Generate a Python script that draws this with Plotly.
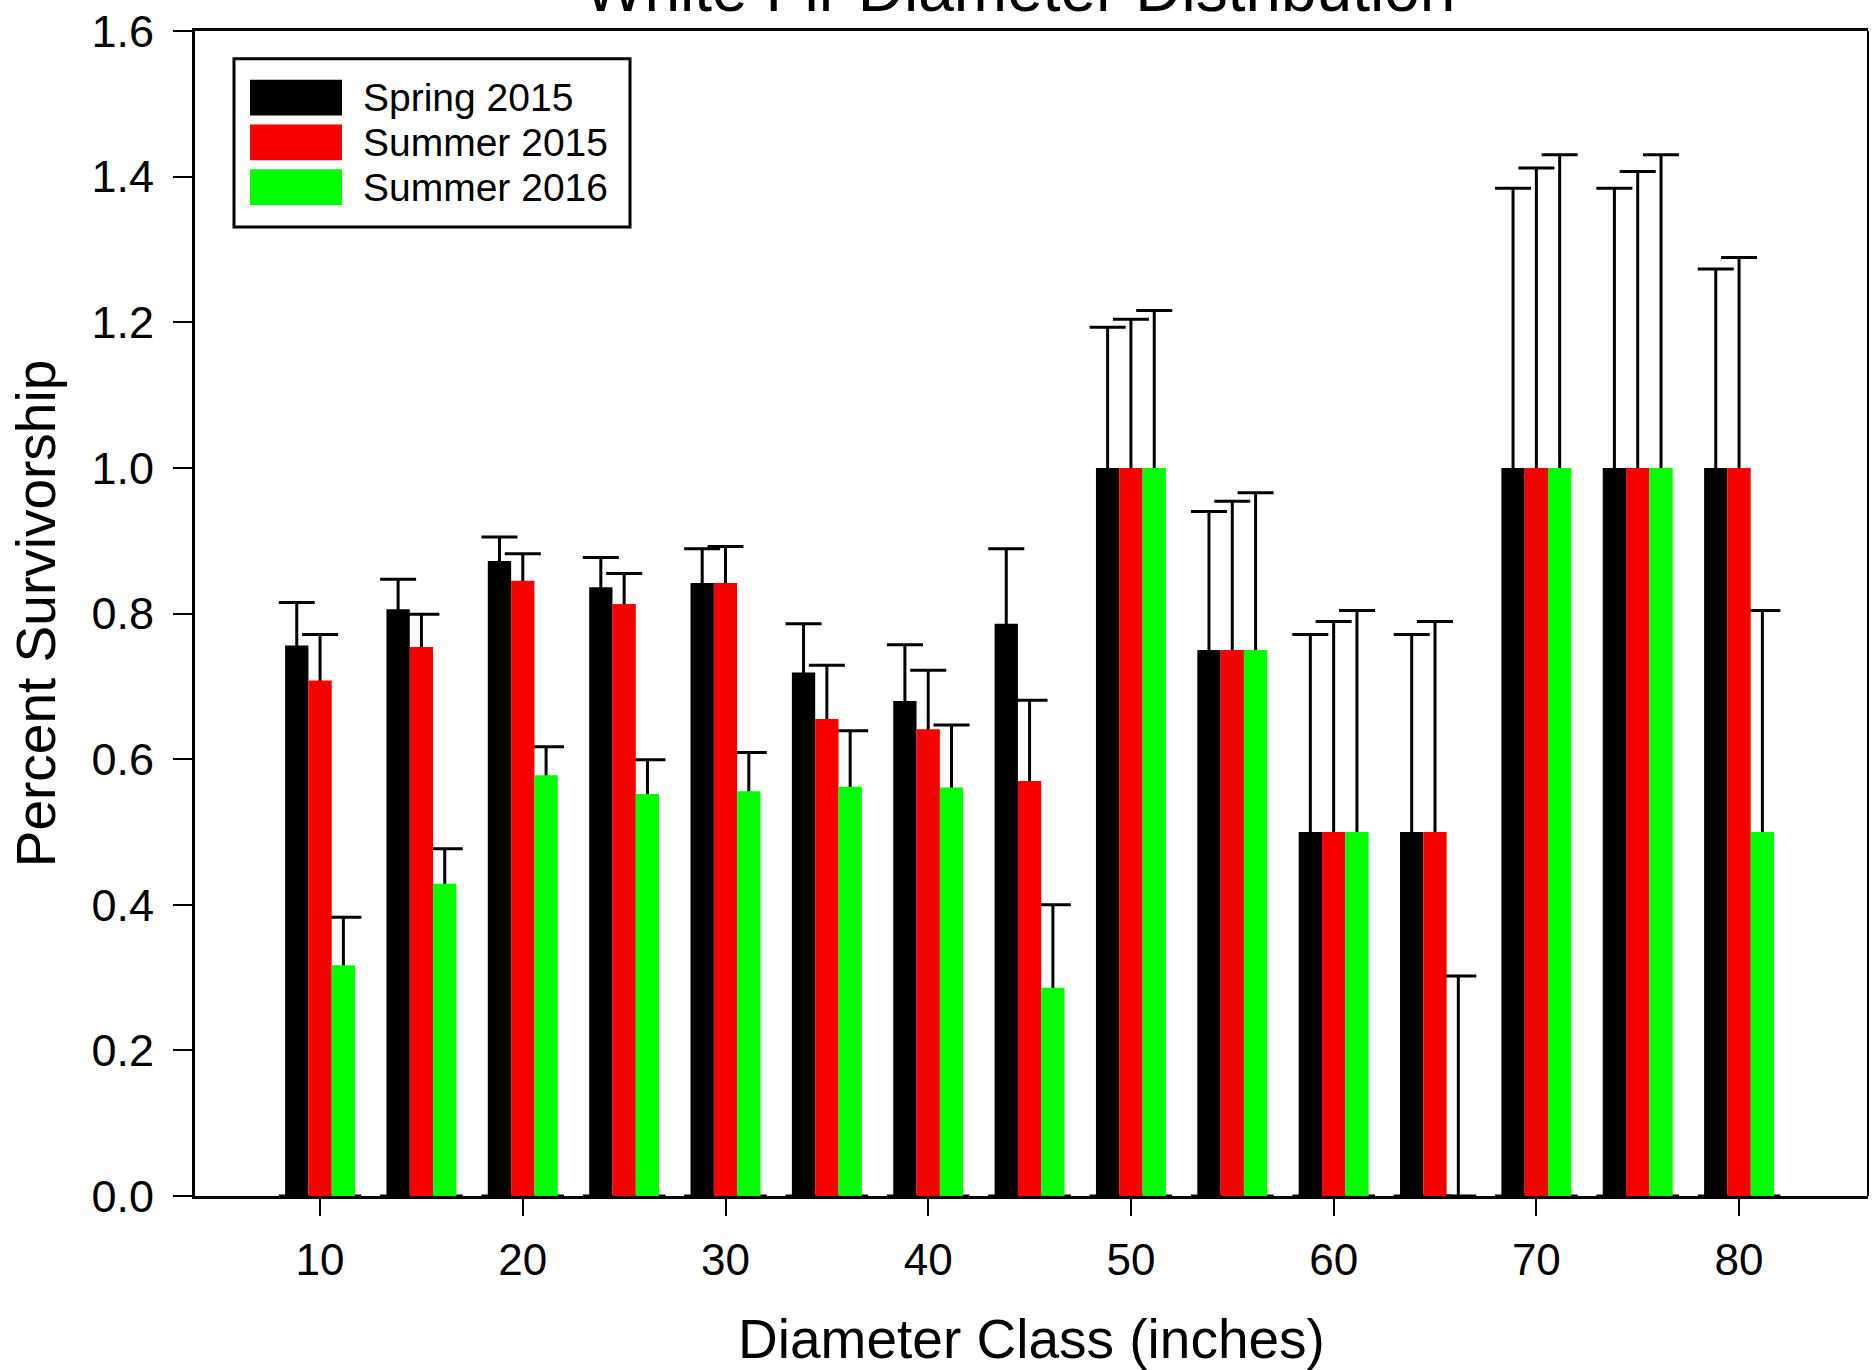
import plotly.graph_objects as go

# ---------------- data ----------------
diameter_class = [10, 15, 20, 25, 30, 35, 40, 45, 50, 55, 60, 65, 70, 75, 80]
series_names = ["Spring 2015", "Summer 2015", "Summer 2016"]
series_colors = ["#000000", "#F70000", "#00FF00"]

spring_2015 = [0.756, 0.806, 0.872, 0.836, 0.842, 0.719, 0.680, 0.786, 1.0, 0.75, 0.5, 0.5, 1.0, 1.0, 1.0]
spring_2015_err = [0.059, 0.041, 0.033, 0.041, 0.047, 0.067, 0.077, 0.103, 0.193, 0.190, 0.271, 0.271, 0.384, 0.384, 0.273]

summer_2015 = [0.708, 0.754, 0.845, 0.813, 0.842, 0.655, 0.641, 0.570, 1.0, 0.75, 0.5, 0.5, 1.0, 1.0, 1.0]
summer_2015_err = [0.063, 0.045, 0.037, 0.042, 0.050, 0.074, 0.081, 0.111, 0.204, 0.204, 0.289, 0.289, 0.412, 0.407, 0.289]

summer_2016 = [0.317, 0.429, 0.578, 0.552, 0.556, 0.562, 0.561, 0.286, 1.0, 0.75, 0.5, 0.0, 1.0, 1.0, 0.5]
summer_2016_err = [0.066, 0.048, 0.039, 0.047, 0.053, 0.077, 0.086, 0.114, 0.216, 0.216, 0.304, 0.302, 0.430, 0.430, 0.304]

x_ticks = [10, 20, 30, 40, 50, 60, 70, 80]
y_ticks = [0.0, 0.2, 0.4, 0.6, 0.8, 1.0, 1.2, 1.4, 1.6]

title_text = "White Fir Diameter Distribution"
x_title = "Diameter Class (inches)"
y_title = "Percent Survivorship"

# ---------------- figure ----------------
FONT = "Liberation Sans, Arial, Helvetica, sans-serif"
W, H = 1874, 1370
ML, MR, MT, MB = 195, 6, 25, 174
PW = W - ML - MR
PH = H - MT - MB

values = [spring_2015, summer_2015, summer_2016]
errors = [spring_2015_err, summer_2015_err, summer_2016_err]

fig = go.Figure()
# error bars carried by transparent bars (drawn first, so the real bars hide
# the lower part of the whiskers; only the upward part stays visible)
for i, (name, vals, errs) in enumerate(zip(series_names, values, errors)):
    fig.add_trace(go.Bar(
        x=diameter_class, y=vals, name=name + " error",
        offsetgroup=str(i),
        marker=dict(color="rgba(0,0,0,0)", line=dict(width=0)),
        error_y=dict(type="data", symmetric=False, array=errs,
                     arrayminus=vals, color="black",
                     thickness=3, width=18),
        showlegend=False, hoverinfo="skip",
    ))
for i, (name, color, vals) in enumerate(zip(series_names, series_colors, values)):
    fig.add_trace(go.Bar(
        x=diameter_class, y=vals, name=name,
        offsetgroup=str(i),
        marker=dict(color=color, line=dict(width=0)),
        showlegend=False,
    ))

def px_x(px):
    return (px - ML) / PW

def px_y(py):
    return 1 - (py - MT) / PH

shapes = []
annotations = []

# legend box
shapes.append(dict(type="rect", xref="paper", yref="paper",
                   x0=px_x(234), x1=px_x(630), y0=px_y(222), y1=px_y(53),
                   line=dict(color="black", width=3), fillcolor="white", layer="above"))
sw_top = [74, 119, 164]
for i, (name, color) in enumerate(zip(series_names, series_colors)):
    t = sw_top[i]
    shapes.append(dict(type="rect", xref="paper", yref="paper",
                       x0=px_x(250), x1=px_x(342), y0=px_y(t + 36), y1=px_y(t),
                       line=dict(width=0), fillcolor=color, layer="above"))
    annotations.append(dict(xref="paper", yref="paper", x=px_x(361), y=px_y(t + 18),
                            xanchor="left", yanchor="middle", showarrow=False,
                            text=name, font=dict(family=FONT, size=39, color="black")))

# right border
shapes.append(dict(type="line", xref="paper", yref="paper", x0=1, x1=1, y0=0, y1=1,
                   line=dict(color="black", width=2)))

# title (mostly cut off at top, as in the reference)
annotations.append(dict(xref="paper", yref="paper", x=0.493, y=1, xanchor="center",
                        yanchor="bottom", yshift=4, showarrow=False, text=title_text,
                        font=dict(family=FONT, size=64, color="black")))

fig.update_layout(
    width=W, height=H,
    margin=dict(l=ML, r=MR, t=MT, b=MB, pad=0),
    paper_bgcolor="white", plot_bgcolor="white",
    barmode="group", bargap=0.31, bargroupgap=0.0,
    font=dict(family=FONT, color="black"),
    shapes=shapes, annotations=annotations,
    showlegend=False,
)
fig.update_xaxes(
    range=[3.83, 86.36], tickvals=x_ticks, ticktext=[str(v) for v in x_ticks],
    ticks="outside", ticklen=17, tickwidth=2, tickcolor="black",
    showline=True, linewidth=3, linecolor="black", mirror=True,
    showgrid=False, zeroline=False,
    tickfont=dict(family=FONT, size=44, color="black"), ticklabelstandoff=6,
    title=dict(text=x_title, font=dict(family=FONT, size=55, color="black"), standoff=40),
)
fig.update_yaxes(
    range=[0, 1.6], tickvals=y_ticks, ticktext=[f"{v:.1f}" for v in y_ticks],
    ticks="outside", ticklen=19, tickwidth=2, tickcolor="black",
    showline=True, linewidth=3, linecolor="black", mirror=False,
    showgrid=False, zeroline=False, ticklabeloverflow="allow",
    tickfont=dict(family=FONT, size=45, color="black"), ticklabelstandoff=10,
    title=dict(text=y_title, font=dict(family=FONT, size=55, color="black"), standoff=19),
)

fig.write_html("out.html")
